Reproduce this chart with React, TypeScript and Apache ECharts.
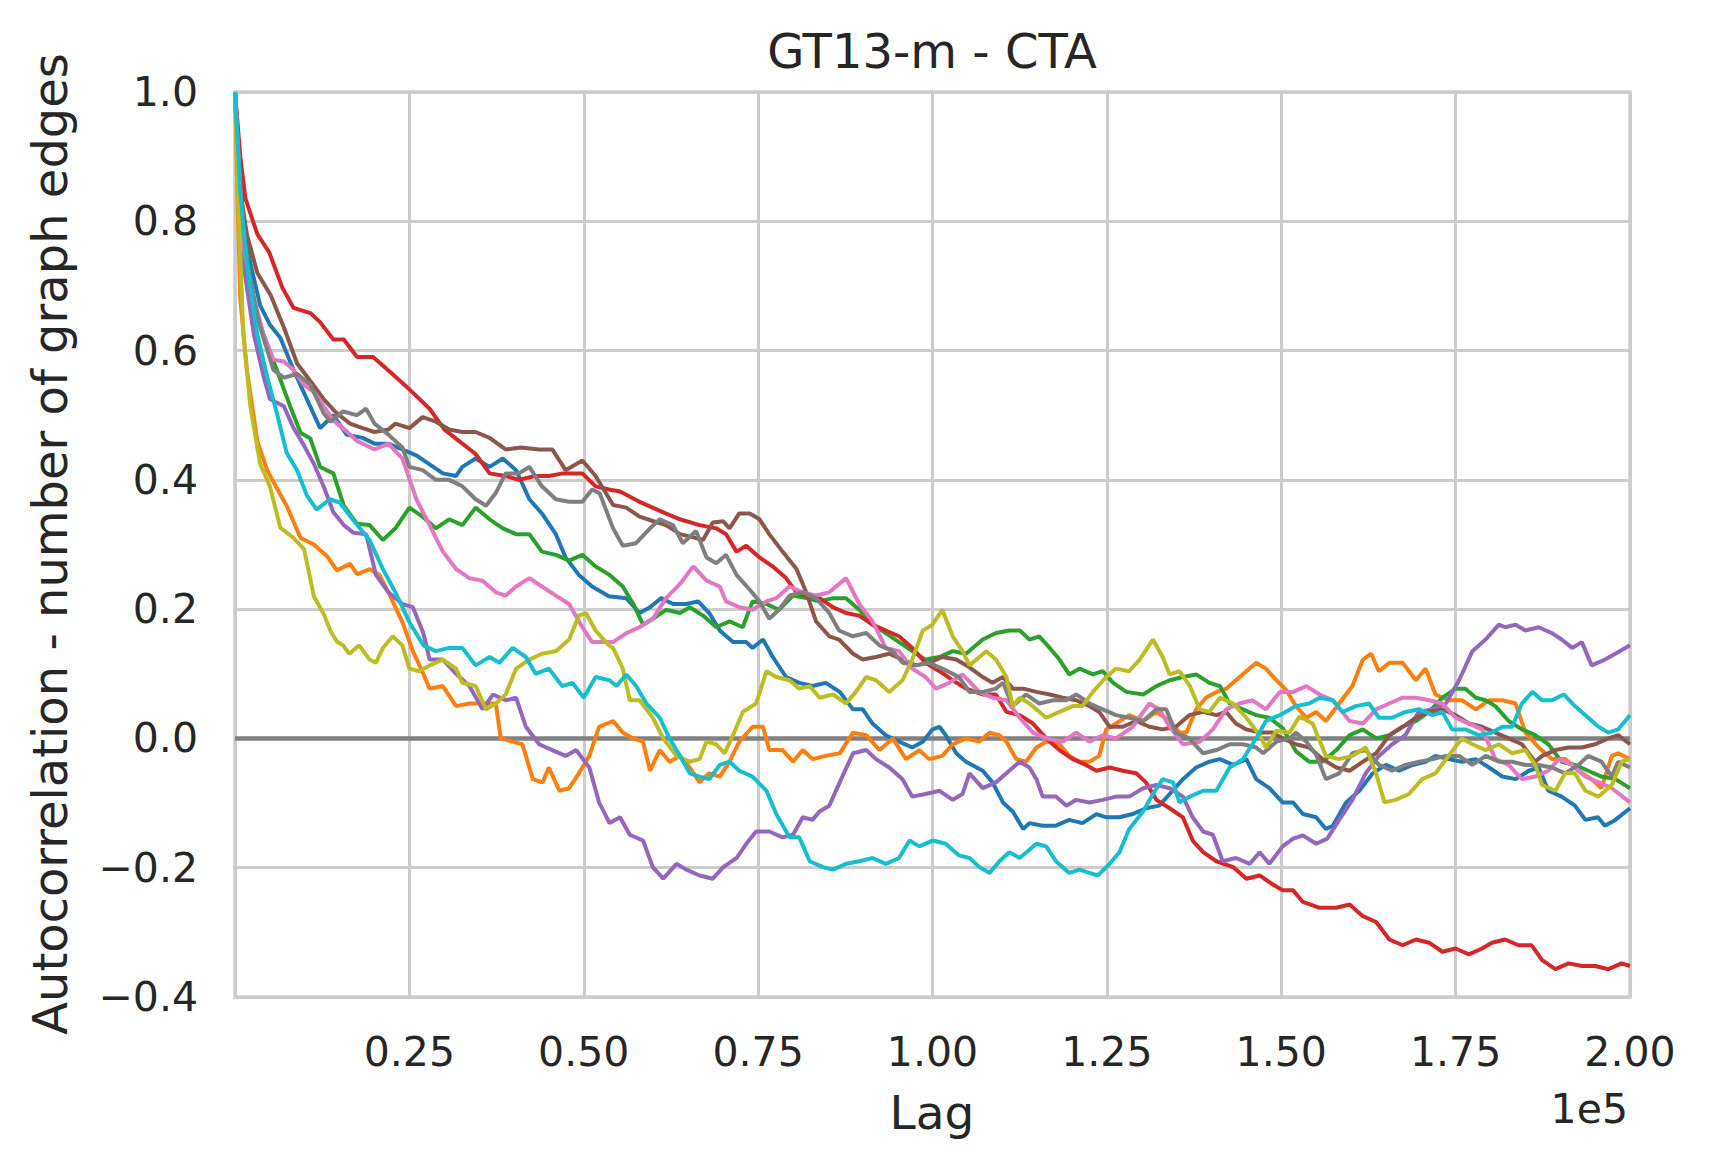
import React, { useEffect, useRef } from "react";
import * as echarts from "echarts";

// Lag values are in thousands; each pair is [lag (k), autocorrelation]
const tickLabelsX = ["", "0.25", "0.50", "0.75", "1.00", "1.25", "1.50", "1.75", "2.00"];
const titleText = "GT13-m - CTA";
const yAxisTitle = "Autocorrelation - number of graph edges";
const xAxisTitle = "Lag";
const offsetText = "1e5";

const seriesColors = ["#1f77b4", "#ff7f0e", "#2ca02c", "#d62728", "#9467bd", "#8c564b", "#e377c2", "#7f7f7f", "#bcbd22", "#17becf"];

const blueRun = [[0,1.0],[1.2,0.79],[2.2,0.735],[3.6,0.67],[5,0.64],[6.5,0.62],[8.4,0.57],[10.3,0.525],[12.2,0.48],[14.1,0.5],[16,0.47],[18.3,0.465],[20,0.456],[22,0.456],[24,0.447],[26,0.438],[27.9,0.424],[29.8,0.41],[31.7,0.406],[32.6,0.42],[34.5,0.433],[36.5,0.42],[38.4,0.433],[40.3,0.415],[42.2,0.37],[44,0.348],[46,0.316],[47.4,0.28],[49.3,0.253],[51.2,0.235],[53.6,0.22],[56.1,0.217],[58,0.194],[59.5,0.203],[61.1,0.217],[62.8,0.208],[64.7,0.208],[66.4,0.212],[68,0.194],[69.5,0.167],[71.4,0.149],[73.3,0.149],[74.2,0.14],[75.7,0.153],[77.1,0.126],[79,0.095],[80.9,0.086],[82.8,0.081],[84.7,0.086],[86.7,0.072],[88.6,0.045],[90,0.045],[91.4,0.023],[93.3,0.005],[95.2,-0.005],[97.1,-0.014],[98.6,-0.005],[100,0.014],[101,0.018],[101.9,0.005],[103.4,-0.023],[104.8,-0.036],[107.2,-0.05],[108.6,-0.068],[110.1,-0.099],[111.5,-0.113],[113,-0.14],[113.9,-0.131],[115.8,-0.135],[117.7,-0.135],[119.6,-0.126],[121.5,-0.131],[123.5,-0.117],[124.9,-0.122],[126.8,-0.122],[128.7,-0.117],[130.6,-0.108],[132.5,-0.104],[134,-0.086],[135.9,-0.063],[137.8,-0.045],[139.7,-0.036],[141.2,-0.032],[143.1,-0.041],[145,-0.032],[146.4,-0.063],[148.3,-0.077],[150.2,-0.099],[151.7,-0.099],[153.1,-0.117],[155,-0.122],[156.4,-0.14],[157.4,-0.135],[159.3,-0.099],[161.2,-0.081],[163.1,-0.054],[165,-0.041],[166.9,-0.05],[168.8,-0.041],[170.7,-0.036],[172.1,-0.027],[174,-0.032],[175.9,-0.036],[177.9,-0.032],[179.8,-0.045],[181.7,-0.059],[183.6,-0.063],[185.5,-0.05],[186.9,-0.045],[188.3,-0.081],[190.2,-0.09],[192.1,-0.104],[193.6,-0.126],[195.4,-0.122],[196.4,-0.135],[197.9,-0.126],[200,-0.108]];

const orangeRun = [[0,1.0],[0.4,0.82],[0.76,0.68],[1.7,0.57],[3.2,0.46],[4.6,0.415],[6,0.387],[7.4,0.36],[9.4,0.31],[11.3,0.3],[13.2,0.282],[14.6,0.26],[16.5,0.27],[17.5,0.254],[19.3,0.262],[20.7,0.253],[22,0.226],[24,0.18],[25.5,0.135],[27,0.10],[27.9,0.077],[29.8,0.081],[31.7,0.05],[33.6,0.054],[35.5,0.054],[37.4,0.054],[38.1,0.0],[39.8,-0.005],[41.2,-0.009],[42.7,-0.063],[44.1,-0.068],[45,-0.045],[46.5,-0.081],[47.9,-0.077],[49.3,-0.054],[50.8,-0.027],[52.2,0.018],[54.2,0.027],[55.6,0.009],[57.1,0.0],[58.5,-0.005],[59.5,-0.05],[60.9,-0.018],[62.3,-0.036],[63.8,-0.027],[65.2,-0.045],[66.6,-0.068],[68,-0.054],[69.5,-0.059],[70.9,-0.036],[72.3,-0.005],[74.2,0.018],[75.7,0.018],[76.6,-0.018],[78.5,-0.018],[80,-0.036],[81.4,-0.018],[82.8,-0.032],[84.7,-0.027],[86.7,-0.023],[88.6,0.009],[90.5,0.005],[92.4,-0.018],[94.3,0.0],[96.2,-0.032],[98.1,-0.018],[99.5,-0.032],[101.4,-0.027],[102.9,-0.009],[104.8,0.0],[106.7,-0.005],[108.2,0.009],[109.6,0.005],[110.6,-0.005],[112,-0.032],[113.4,-0.036],[114.9,-0.014],[116.3,-0.005],[118.2,-0.009],[119.6,-0.027],[121.1,-0.036],[122.5,-0.036],[123.9,-0.027],[124.9,0.014],[126.3,0.023],[128.2,0.036],[130.2,0.027],[132.1,0.041],[134,0.027],[135.4,0.009],[136.4,0.009],[137.8,0.045],[139.2,0.063],[140.7,0.072],[142.1,0.077],[143.5,0.09],[145,0.104],[146.4,0.117],[147.8,0.108],[149.3,0.09],[150.7,0.075],[152.1,0.05],[153.6,0.032],[155,0.041],[156.4,0.027],[158.3,0.054],[160.2,0.081],[161.7,0.122],[162.9,0.131],[164,0.104],[165.5,0.117],[167.4,0.117],[169.3,0.09],[170.7,0.108],[172.1,0.068],[174,0.059],[175.9,0.059],[177.9,0.045],[179.8,0.059],[181.7,0.059],[183.6,0.054],[185,0.009],[186.9,-0.014],[188.8,-0.032],[190.7,-0.032],[192.6,-0.05],[194.5,-0.063],[195.9,-0.077],[197.4,-0.027],[198.3,-0.023],[200,-0.032]];

const greenRun = [[0,1.0],[0.8,0.85],[2,0.72],[3,0.66],[4.1,0.625],[6,0.57],[7.9,0.514],[9.4,0.473],[10.8,0.464],[12.2,0.42],[14.1,0.41],[15.6,0.36],[17.5,0.332],[19.3,0.33],[21.2,0.307],[23,0.325],[25,0.357],[26.9,0.343],[28.8,0.325],[30.7,0.339],[32.6,0.33],[34.5,0.357],[36.5,0.339],[38.4,0.325],[40.3,0.316],[42.2,0.316],[44,0.289],[46,0.284],[47.9,0.275],[49.8,0.284],[51.7,0.266],[53.7,0.253],[55.6,0.235],[57.1,0.208],[58.5,0.176],[59.9,0.185],[61.8,0.199],[63.8,0.194],[65.2,0.203],[67.1,0.19],[69,0.172],[70.9,0.181],[72.8,0.172],[74.2,0.212],[76.2,0.208],[78,0.199],[80,0.221],[81.9,0.217],[83.8,0.212],[85.7,0.217],[87.6,0.217],[89.5,0.199],[91.4,0.176],[93.3,0.163],[95.2,0.149],[97.1,0.135],[99,0.122],[101,0.126],[102.9,0.135],[104.8,0.131],[107.2,0.153],[109.1,0.163],[111,0.167],[112.5,0.167],[113.9,0.153],[115.3,0.158],[116.8,0.14],[118.2,0.122],[119.6,0.099],[121.1,0.108],[123,0.099],[124.4,0.104],[125.9,0.086],[127.8,0.072],[130.2,0.068],[132.1,0.081],[134,0.09],[135.9,0.095],[137.8,0.099],[139.7,0.086],[141.2,0.081],[142.6,0.054],[144.5,0.045],[146.4,0.036],[148.3,0.032],[150.2,0.016],[152.1,-0.02],[154,-0.036],[155.9,-0.036],[157.9,-0.018],[159.8,0.005],[161.7,0.014],[163.6,0.0],[165.5,0.005],[167.4,0.018],[169.3,0.027],[171.2,0.041],[173.1,0.063],[175,0.077],[176.4,0.077],[177.9,0.063],[179.3,0.059],[180.7,0.05],[182.6,0.027],[184.5,0.014],[186.4,0.005],[188.3,-0.009],[190.2,-0.036],[192.1,-0.041],[194,-0.05],[195.9,-0.059],[197.9,-0.063],[200,-0.077]];

const redRun = [[0,1.0],[0.76,0.90],[1.5,0.835],[3.2,0.78],[4.9,0.752],[6.8,0.697],[8.4,0.666],[10.8,0.658],[12.2,0.644],[14.1,0.617],[15.6,0.617],[17.5,0.59],[19.8,0.59],[22,0.569],[25,0.54],[27.9,0.51],[30,0.478],[32.6,0.456],[34.5,0.44],[36.5,0.41],[38.8,0.406],[40.7,0.40],[43,0.406],[45,0.406],[47,0.41],[49.8,0.41],[51.7,0.39],[53.6,0.385],[55.2,0.382],[58,0.366],[60.9,0.352],[63.8,0.339],[66.6,0.33],[69,0.325],[70.4,0.316],[71.9,0.289],[73.3,0.298],[75.2,0.28],[77.1,0.266],[79,0.248],[80.5,0.226],[81.9,0.221],[83.8,0.217],[85.7,0.203],[87.6,0.194],[89.5,0.19],[91.4,0.176],[93.3,0.167],[95.2,0.158],[97.1,0.14],[99,0.117],[101,0.104],[102.9,0.09],[104.8,0.077],[107.2,0.068],[109.1,0.068],[110.6,0.041],[112.5,0.036],[114.4,0.023],[116.3,0.0],[118.2,-0.018],[120.1,-0.032],[122,-0.041],[123.5,-0.05],[125.4,-0.045],[127.3,-0.05],[129.2,-0.054],[130.6,-0.068],[132.1,-0.095],[134,-0.108],[135.9,-0.122],[137.3,-0.158],[138.8,-0.176],[140.7,-0.19],[143.1,-0.199],[145,-0.217],[146.9,-0.212],[148.8,-0.226],[150.2,-0.235],[151.7,-0.235],[153.1,-0.253],[155.5,-0.262],[157.9,-0.262],[159.8,-0.257],[161.7,-0.275],[163.6,-0.284],[165.5,-0.311],[167.4,-0.32],[169.3,-0.311],[171.2,-0.316],[173.1,-0.33],[175,-0.325],[176.9,-0.334],[178.8,-0.325],[180.2,-0.316],[182.1,-0.311],[184,-0.32],[185.9,-0.32],[187.4,-0.343],[189.3,-0.357],[191.2,-0.348],[193.1,-0.352],[195,-0.352],[196.9,-0.357],[198.8,-0.348],[200,-0.352]];

const purpleRun = [[0,1.0],[1.2,0.735],[2.7,0.625],[4.1,0.56],[5,0.525],[7,0.514],[8.4,0.48],[9.9,0.453],[11.3,0.425],[12.7,0.39],[14.1,0.35],[15.6,0.33],[17,0.318],[18.8,0.316],[20.2,0.253],[22,0.226],[24,0.208],[25.5,0.203],[27,0.163],[27.9,0.122],[29.8,0.122],[31.7,0.10],[33.6,0.081],[35.5,0.045],[37,0.068],[38.8,0.059],[40.3,0.063],[41.7,0.018],[43.6,-0.009],[45.5,-0.018],[47.4,-0.027],[48.9,-0.018],[50.8,-0.045],[52.2,-0.099],[53.7,-0.131],[55.2,-0.122],[56.6,-0.149],[58.5,-0.158],[59.9,-0.199],[61.4,-0.217],[63.3,-0.194],[64.7,-0.203],[66.6,-0.212],[68.5,-0.217],[70,-0.199],[71.9,-0.185],[73.3,-0.163],[74.7,-0.144],[76.6,-0.144],[78.5,-0.153],[80,-0.149],[81.4,-0.122],[82.8,-0.126],[83.8,-0.113],[85.2,-0.104],[86.7,-0.068],[88.6,-0.023],[90.5,-0.018],[91.9,-0.032],[93.8,-0.045],[95.7,-0.063],[97.1,-0.09],[99,-0.086],[101,-0.081],[102.9,-0.095],[104.3,-0.086],[105.3,-0.054],[107.2,-0.077],[109.1,-0.068],[110.6,-0.054],[112.5,-0.036],[113.9,-0.045],[114.9,-0.063],[115.8,-0.09],[117.7,-0.09],[119.2,-0.104],[120.6,-0.095],[122.5,-0.099],[124.4,-0.095],[126.3,-0.09],[128.2,-0.09],[130.2,-0.077],[132.1,-0.072],[134,-0.077],[135.9,-0.09],[137.3,-0.122],[138.8,-0.144],[140.2,-0.149],[141.6,-0.19],[143.5,-0.185],[145.5,-0.194],[146.9,-0.176],[148.3,-0.194],[150.2,-0.167],[151.7,-0.155],[153.1,-0.15],[155,-0.163],[156.6,-0.155],[158.3,-0.126],[160.2,-0.095],[162.1,-0.054],[164,-0.027],[165.9,-0.009],[167.8,0.005],[169.7,0.041],[171.7,0.045],[173.6,0.054],[175.5,0.09],[177.4,0.135],[179.3,0.153],[181.2,0.176],[182.1,0.172],[183.6,0.176],[185,0.167],[186.9,0.172],[188.8,0.163],[190.2,0.153],[191.7,0.14],[193.1,0.149],[194.5,0.113],[196.4,0.122],[197.9,0.131],[200,0.144]];

const brownRun = [[0,1.0],[0.76,0.846],[1.7,0.78],[3.2,0.72],[5.1,0.686],[7,0.636],[8.9,0.58],[10.8,0.553],[12.7,0.525],[14.6,0.503],[16.5,0.487],[18.3,0.48],[20,0.474],[22,0.478],[23,0.487],[25,0.48],[26.9,0.497],[28.8,0.49],[30.7,0.478],[32.6,0.474],[34.5,0.474],[36.5,0.465],[38.8,0.447],[41,0.45],[43.6,0.447],[45.5,0.447],[47.4,0.415],[49.8,0.43],[51.7,0.406],[54.2,0.361],[56.1,0.357],[58,0.343],[60,0.336],[61.8,0.33],[63.8,0.316],[65.7,0.311],[67.1,0.307],[68.5,0.334],[70,0.336],[70.9,0.325],[72.3,0.348],[73.8,0.348],[75.2,0.339],[76.6,0.316],[78.5,0.289],[80.5,0.262],[81.9,0.226],[83.3,0.181],[85.2,0.158],[86.6,0.153],[88.6,0.131],[90,0.122],[91.9,0.126],[93.8,0.131],[95.7,0.122],[97.6,0.113],[99.5,0.117],[101.4,0.126],[103.4,0.122],[105.3,0.11],[107.2,0.095],[108.6,0.086],[110.1,0.095],[111.5,0.077],[113,0.077],[114.9,0.072],[116.8,0.068],[118.7,0.063],[120.6,0.059],[122.5,0.05],[123.9,0.041],[125.4,0.018],[127.3,0.018],[129.2,0.027],[131.1,0.018],[133,0.014],[134.9,0.018],[136.8,0.036],[138.8,0.041],[140.7,0.036],[142.1,0.041],[143.5,0.023],[145,0.014],[146.9,0.009],[148.8,0.009],[150.2,0.0],[152.1,-0.009],[154,-0.014],[155.9,-0.032],[157.9,-0.045],[159.8,-0.05],[161.7,-0.036],[163.6,-0.023],[165.5,0.005],[167.4,0.018],[169.3,0.032],[171.2,0.041],[173.1,0.045],[175,0.036],[176.9,0.023],[178.8,0.018],[180.7,0.009],[182.6,0.0],[184.5,-0.009],[186.4,-0.036],[187.4,-0.027],[189.3,-0.018],[191.2,-0.014],[193.1,-0.014],[195,-0.009],[196.9,0.0],[198.3,0.005],[200,-0.009]];

const pinkRun = [[0,1.0],[1.2,0.763],[2.7,0.68],[4.1,0.625],[5.5,0.586],[7,0.583],[8.4,0.57],[9.9,0.547],[11.3,0.536],[12.7,0.514],[14.1,0.492],[16,0.475],[17.5,0.46],[18.3,0.456],[20,0.447],[22,0.456],[24,0.433],[26,0.37],[27.9,0.33],[29.8,0.289],[31.7,0.262],[33.6,0.248],[35.5,0.244],[37.4,0.226],[38.8,0.221],[40.3,0.235],[42.2,0.248],[44,0.235],[46,0.221],[47.9,0.208],[49.8,0.172],[51.2,0.149],[54.2,0.149],[56.1,0.163],[58,0.172],[59.9,0.185],[61.8,0.217],[63.8,0.239],[65.7,0.266],[67.6,0.244],[69.5,0.235],[70.4,0.212],[72.3,0.203],[74.2,0.199],[76.2,0.212],[77.6,0.217],[79.5,0.235],[81.4,0.226],[83.3,0.221],[85.2,0.226],[87.6,0.248],[89.5,0.208],[91.4,0.181],[93.3,0.14],[95.2,0.135],[97.1,0.108],[99,0.095],[100.5,0.077],[102.4,0.086],[104.3,0.099],[106.7,0.072],[108.6,0.063],[110.6,0.059],[112.5,0.032],[114.4,0.009],[116.3,0.0],[118.7,-0.005],[120.6,0.009],[122.5,-0.005],[124.4,0.005],[126.3,0.0],[128.7,0.018],[131.1,0.054],[132.5,0.045],[134,0.018],[135.9,-0.009],[138.3,-0.005],[140.2,0.014],[142.1,0.045],[144,0.054],[145.9,0.059],[147.8,0.045],[149.8,0.072],[151.7,0.072],[153.6,0.081],[155.5,0.068],[157.4,0.059],[158.8,0.04],[159.8,0.027],[161.7,0.023],[163.6,0.045],[165.5,0.054],[167.4,0.063],[169.3,0.063],[171.2,0.059],[173.1,0.054],[175,0.032],[176.9,0.023],[178.8,0.014],[180.7,-0.032],[182.6,-0.041],[184.5,-0.063],[186.4,-0.059],[188.3,-0.05],[189.8,-0.032],[191.7,-0.041],[193.6,-0.059],[195.5,-0.068],[197.4,-0.077],[200,-0.099]];

const grayRun = [[0,1.0],[0.8,0.82],[2,0.72],[3.5,0.64],[5.5,0.57],[7,0.558],[8.9,0.564],[10.8,0.547],[12.7,0.503],[13.7,0.49],[15.5,0.506],[17.5,0.5],[18.8,0.51],[20,0.487],[22,0.47],[24,0.45],[25,0.42],[26.9,0.415],[28.8,0.40],[30.7,0.40],[32.6,0.39],[34.5,0.37],[36,0.36],[37.4,0.38],[38.8,0.41],[40.7,0.41],[42.2,0.42],[44,0.39],[46,0.37],[47.9,0.366],[49.8,0.366],[51.2,0.385],[52.3,0.379],[54.2,0.325],[55.6,0.298],[57.5,0.302],[59.5,0.325],[60.9,0.339],[62.8,0.33],[64.2,0.302],[66.1,0.321],[67.6,0.28],[69,0.271],[70.4,0.284],[71.9,0.253],[73.8,0.23],[75.2,0.212],[76.6,0.185],[78,0.199],[79.5,0.221],[81.4,0.226],[83.3,0.217],[85.2,0.194],[86.6,0.167],[88.6,0.158],[90.5,0.163],[92.4,0.144],[94.3,0.135],[95.7,0.117],[97.6,0.113],[99.5,0.117],[101.4,0.108],[103.8,0.095],[105.3,0.072],[107.2,0.072],[109.1,0.077],[110.1,0.086],[111.5,0.05],[113.4,0.068],[115.3,0.054],[117.3,0.059],[119.2,0.059],[120.6,0.068],[122.5,0.054],[124.4,0.045],[126.3,0.036],[128.2,0.032],[130.2,0.027],[132.1,0.045],[133.5,0.045],[134.9,0.009],[136.8,0.0],[138.8,-0.023],[140.7,-0.018],[142.6,-0.009],[144.5,-0.009],[146.4,-0.014],[147.4,-0.023],[149.3,-0.005],[151.2,0.0],[152.1,0.009],[153.6,-0.005],[155,-0.025],[156.4,-0.063],[158.3,-0.054],[160.2,-0.023],[162.1,-0.018],[164,-0.041],[165.9,-0.05],[167.8,-0.041],[169.8,-0.036],[171.7,-0.032],[173.6,-0.027],[175.5,-0.027],[177.4,-0.041],[179.3,-0.027],[181.2,-0.036],[183.1,-0.036],[185,-0.041],[186.9,-0.041],[188.8,-0.045],[190.7,-0.054],[192.6,-0.041],[194,-0.027],[195.9,-0.036],[197.4,-0.059],[198.3,-0.036],[200,-0.045]];

const oliveRun = [[0,1.0],[0.6,0.79],[1.2,0.625],[2.2,0.514],[3.6,0.425],[5,0.39],[6.5,0.326],[8.4,0.31],[9.9,0.293],[11.3,0.22],[12.7,0.193],[13.7,0.166],[14.6,0.15],[15.5,0.144],[16.4,0.131],[17.8,0.144],[19.3,0.122],[20.2,0.117],[21.2,0.14],[22.6,0.158],[24,0.144],[25,0.108],[26.4,0.104],[27.9,0.113],[29.8,0.122],[31.7,0.108],[32.6,0.086],[34.5,0.081],[36,0.045],[37.4,0.054],[38.8,0.068],[40.3,0.108],[42.2,0.122],[44,0.131],[46,0.135],[47.9,0.153],[49.3,0.19],[50.3,0.194],[51.7,0.167],[53.6,0.144],[54.2,0.14],[55.6,0.108],[56.6,0.059],[58,0.059],[59.9,0.032],[61.4,0.0],[63.3,-0.027],[65.2,-0.036],[66.6,-0.032],[67.6,-0.005],[69,-0.009],[70.2,-0.023],[71.4,0.005],[72.8,0.041],[74.7,0.054],[76.2,0.104],[77.6,0.095],[79.5,0.09],[80.9,0.077],[82.4,0.081],[83.8,0.063],[85.7,0.068],[87.6,0.054],[89,0.072],[90.5,0.095],[91.9,0.09],[93.8,0.072],[95.7,0.09],[97.1,0.122],[98.6,0.167],[100,0.176],[101.4,0.199],[102.9,0.158],[104.3,0.135],[105.3,0.113],[107.7,0.135],[109.1,0.122],[110.6,0.095],[111.5,0.05],[112.5,0.063],[113.9,0.054],[116.3,0.032],[118.2,0.041],[120.1,0.05],[121.5,0.05],[123,0.072],[124.9,0.095],[126.3,0.108],[128.2,0.104],[129.7,0.122],[131.6,0.153],[133,0.126],[134,0.099],[135.4,0.104],[136.9,0.081],[138.3,0.045],[139.7,0.041],[141.2,0.063],[143.1,0.054],[145,0.032],[146.9,0.005],[147.8,-0.014],[149.3,0.012],[151.2,0.009],[152.6,0.034],[154.5,0.023],[156.4,-0.027],[158.3,-0.032],[160.2,-0.027],[162.1,-0.014],[163.6,-0.054],[164.8,-0.099],[166.4,-0.095],[168.3,-0.086],[170.2,-0.063],[172.1,-0.054],[174,-0.027],[175.9,0.0],[177.4,-0.009],[179.3,-0.018],[181.2,-0.009],[183.1,-0.023],[185,-0.018],[186.4,-0.041],[187.4,-0.072],[189.3,-0.081],[190.7,-0.054],[192.1,-0.054],[193.6,-0.081],[195.5,-0.09],[197.4,-0.072],[198.8,-0.036],[200,-0.032]];

const cyanRun = [[0,1.0],[0.76,0.846],[1.7,0.735],[3.2,0.625],[4.6,0.56],[6,0.503],[7.4,0.442],[8.9,0.415],[10.3,0.376],[11.7,0.354],[13.6,0.37],[15,0.365],[17,0.337],[19.3,0.307],[21.2,0.262],[23,0.226],[25,0.18],[27,0.144],[28.8,0.135],[30.7,0.14],[32.6,0.14],[34.5,0.113],[36.5,0.126],[37.9,0.117],[39.8,0.14],[41.7,0.126],[43.1,0.10],[45,0.108],[46.9,0.081],[48.4,0.086],[50,0.063],[51.7,0.095],[53.7,0.09],[54.7,0.081],[56.1,0.099],[57.5,0.081],[59,0.054],[60.9,0.032],[62.3,0.0],[63.8,-0.027],[65.2,-0.054],[66.6,-0.059],[68,-0.063],[69.5,-0.041],[70.9,-0.036],[72.3,-0.05],[74.2,-0.059],[76.2,-0.081],[77.6,-0.117],[79.5,-0.153],[80.9,-0.153],[82.4,-0.19],[84.3,-0.199],[85.7,-0.203],[87.6,-0.194],[89.5,-0.19],[91.4,-0.185],[93.3,-0.194],[95.2,-0.185],[96.7,-0.158],[98.1,-0.167],[100,-0.158],[101.9,-0.163],[103.8,-0.181],[105.3,-0.185],[106.7,-0.199],[108.2,-0.208],[109.6,-0.19],[111,-0.176],[112.5,-0.185],[114.9,-0.163],[116.3,-0.167],[117.7,-0.19],[119.6,-0.208],[121.1,-0.203],[122.5,-0.208],[123.7,-0.212],[125.4,-0.194],[126.8,-0.176],[128.2,-0.14],[130.2,-0.113],[131.6,-0.086],[133,-0.063],[134.5,-0.068],[135.4,-0.099],[136.9,-0.09],[138.8,-0.081],[140.7,-0.081],[142.6,-0.045],[144.5,-0.032],[146.4,0.0],[147.8,0.027],[149.8,0.036],[152.1,0.05],[154,0.054],[155.5,0.063],[157.4,0.059],[158.8,0.041],[160.7,0.05],[162.6,0.054],[164,0.032],[165.9,0.032],[167.8,0.041],[169.8,0.045],[171.7,0.036],[173.1,0.041],[174.5,0.014],[176.4,0.014],[178.3,0.005],[180.2,0.009],[181.7,0.018],[183.1,0.018],[184.5,0.054],[186,0.072],[187.4,0.059],[188.8,0.059],[190.5,0.068],[192.1,0.05],[193.6,0.036],[195.5,0.018],[196.9,0.009],[198.3,0.014],[200,0.036]];

const runs = [blueRun, orangeRun, greenRun, redRun, purpleRun, brownRun, pinkRun, grayRun, oliveRun, cyanRun];

const FONT = "DejaVu Sans";
const TEXT = "#262626";

export default function App() {
  const ref = useRef<HTMLDivElement>(null);
  useEffect(() => {
    document.body.style.margin = "0";
    const chart = echarts.init(ref.current!, null, { renderer: "svg" });
    const series: any[] = runs.map((run, i) => ({
      type: "line",
      name: "run" + i,
      data: run.map((p) => [p[0] * 1000, p[1]]),
      showSymbol: false,
      symbol: "none",
      lineStyle: { color: seriesColors[i], width: 4 },
      itemStyle: { color: seriesColors[i] },
      silent: true,
      z: 3,
    }));
    series.push({
      type: "line",
      name: "zero",
      data: [[0, 0], [200000, 0]],
      showSymbol: false,
      symbol: "none",
      lineStyle: { color: "#808080", width: 4.5 },
      silent: true,
      z: 2,
    });
    chart.setOption({
      animation: false,
      backgroundColor: "#ffffff",
      grid: {
        left: 235,
        top: 92,
        width: 1395,
        height: 905,
        show: true,
        borderColor: "#cccccc",
        borderWidth: 3.5,
        backgroundColor: "#ffffff",
        containLabel: false,
      },
      xAxis: {
        type: "value",
        min: 0,
        max: 200000,
        interval: 25000,
        axisLine: { show: false },
        axisTick: { show: false },
        splitLine: { show: true, lineStyle: { color: "#cccccc", width: 3 } },
        axisLabel: {
          fontFamily: FONT,
          fontSize: 41,
          color: TEXT,
          margin: 34,
          formatter: (v: number) => tickLabelsX[Math.round(v / 25000)] ?? "",
        },
      },
      yAxis: {
        type: "value",
        min: -0.4,
        max: 1.0,
        interval: 0.2,
        axisLine: { show: false },
        axisTick: { show: false },
        splitLine: { show: true, lineStyle: { color: "#cccccc", width: 3 } },
        axisLabel: {
          fontFamily: FONT,
          fontSize: 41,
          color: TEXT,
          margin: 37,
          formatter: (v: number) => (v < -1e-9 ? "\u2212" + Math.abs(v).toFixed(1) : Math.abs(v).toFixed(1)),
        },
      },
      graphic: [
        {
          type: "text",
          x: 932,
          y: 51,
          style: { text: titleText, font: `48px "${FONT}"`, fill: TEXT, align: "center", verticalAlign: "middle" },
        },
        {
          type: "text",
          x: 932,
          y: 1112,
          style: { text: xAxisTitle, font: `47px "${FONT}"`, fill: TEXT, align: "center", verticalAlign: "middle" },
        },
        {
          type: "text",
          x: 1628,
          y: 1109,
          style: { text: offsetText, font: `41px "${FONT}"`, fill: TEXT, align: "right", verticalAlign: "middle" },
        },
        {
          type: "text",
          x: 50,
          y: 544,
          rotation: Math.PI / 2,
          style: { text: yAxisTitle, font: `48px "${FONT}"`, fill: TEXT, align: "center", verticalAlign: "middle" },
        },
      ],
      series,
    });
    return () => chart.dispose();
  }, []);
  return <div ref={ref} style={{ width: 1709, height: 1169 }} />;
}
